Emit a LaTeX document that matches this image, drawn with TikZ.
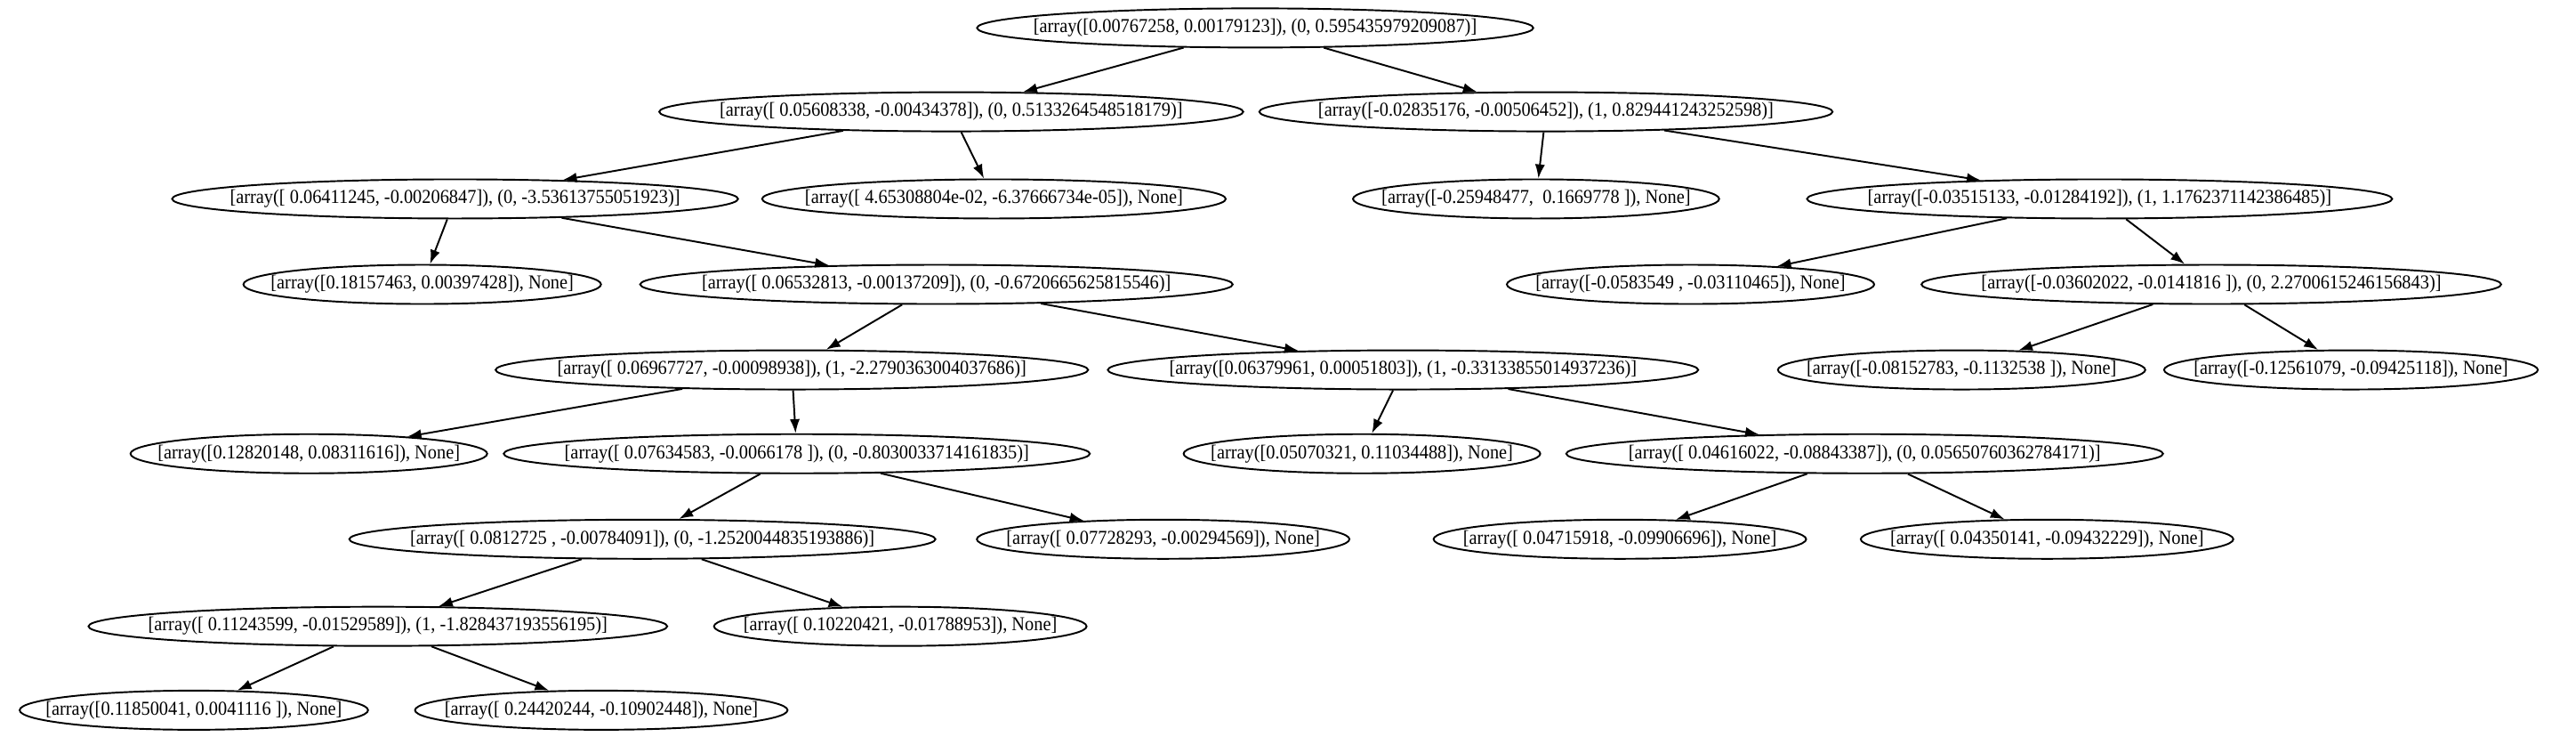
\documentclass[tikz,border=0pt]{standalone}
\usepackage{fontspec}
\setmainfont{Liberation Serif}[FakeStretch=0.92]
\usetikzlibrary{shapes.geometric, arrows.meta}

\tikzset{
    split/.style={draw, ellipse, line width=0.55pt, inner xsep=-8pt, inner ysep=0pt,
        minimum height=4.4mm, font=\fontsize{6.3pt}{7pt}\selectfont},
    edge/.style={->, >={Latex[length=4.5pt, width=3.2pt]}, line width=0.55pt}
}

\begin{document}
\begin{tikzpicture}[x=0.1847mm, y=-0.1847mm]
    \useasboundingbox (0,0) rectangle (1568,448);
    % level 0
    \node (n0) at (764,17) [split] {[array([0.00767258, 0.00179123]), (0, 0.595435979209087)]};
    % level 1
    \node (n1) at (579,68) [split] {[array([ 0.05608338, -0.00434378]), (0, 0.5133264548518179)]};
    \node (n2) at (941,68) [split] {[array([-0.02835176, -0.00506452]), (1, 0.829441243252598)]};
    % level 2
    \node (n3) at (277,121) [split] {[array([ 0.06411245, -0.00206847]), (0, -3.53613755051923)]};
    \node (n4) at (605,121) [split] {[array([ 4.65308804e-02, -6.37666734e-05]), None]};
    \node (n5) at (935,121) [split] {[array([-0.25948477,\ \ 0.1669778 ]), None]};
    \node (n6) at (1278,121) [split] {[array([-0.03515133, -0.01284192]), (1, 1.1762371142386485)]};
    % level 3
    \node (n7) at (257,173) [split] {[array([0.18157463, 0.00397428]), None]};
    \node (n8) at (570,173) [split] {[array([ 0.06532813, -0.00137209]), (0, -0.6720665625815546)]};
    \node (n9) at (1029,173) [split] {[array([-0.0583549 , -0.03110465]), None]};
    \node (n10) at (1346,173) [split] {[array([-0.03602022, -0.0141816 ]), (0, 2.2700615246156843)]};
    % level 4
    \node (n11) at (482,225) [split] {[array([ 0.06967727, -0.00098938]), (1, -2.2790363004037686)]};
    \node (n12) at (854,225) [split] {[array([0.06379961, 0.00051803]), (1, -0.33133855014937236)]};
    \node (n13) at (1194,225) [split] {[array([-0.08152783, -0.1132538 ]), None]};
    \node (n14) at (1431,225) [split] {[array([-0.12561079, -0.09425118]), None]};
    % level 5
    \node (n15) at (188,276) [split] {[array([0.12820148, 0.08311616]), None]};
    \node (n16) at (485,276) [split] {[array([ 0.07634583, -0.0066178 ]), (0, -0.8030033714161835)]};
    \node (n17) at (829,276) [split] {[array([0.05070321, 0.11034488]), None]};
    \node (n18) at (1135,276) [split] {[array([ 0.04616022, -0.08843387]), (0, 0.05650760362784171)]};
    % level 6
    \node (n19) at (391,328) [split] {[array([ 0.0812725 , -0.00784091]), (0, -1.2520044835193886)]};
    \node (n20) at (708,328) [split] {[array([ 0.07728293, -0.00294569]), None]};
    \node (n21) at (986,328) [split] {[array([ 0.04715918, -0.09906696]), None]};
    \node (n22) at (1246,328) [split] {[array([ 0.04350141, -0.09432229]), None]};
    % level 7
    \node (n23) at (230,381) [split] {[array([ 0.11243599, -0.01529589]), (1, -1.828437193556195)]};
    \node (n24) at (548,381) [split] {[array([ 0.10220421, -0.01788953]), None]};
    % level 8
    \node (n25) at (118,432) [split] {[array([0.11850041, 0.0041116 ]), None]};
    \node (n26) at (366,432) [split] {[array([ 0.24420244, -0.10902448]), None]};
    % edges
    \draw [edge] (n0) -- (n1);
    \draw [edge] (n0) -- (n2);
    \draw [edge] (n1) -- (n3);
    \draw [edge] (n1) -- (n4);
    \draw [edge] (n2) -- (n5);
    \draw [edge] (n2) -- (n6);
    \draw [edge] (n3) -- (n7);
    \draw [edge] (n3) -- (n8);
    \draw [edge] (n6) -- (n9);
    \draw [edge] (n6) -- (n10);
    \draw [edge] (n8) -- (n11);
    \draw [edge] (n8) -- (n12);
    \draw [edge] (n10) -- (n13);
    \draw [edge] (n10) -- (n14);
    \draw [edge] (n11) -- (n15);
    \draw [edge] (n11) -- (n16);
    \draw [edge] (n12) -- (n17);
    \draw [edge] (n12) -- (n18);
    \draw [edge] (n16) -- (n19);
    \draw [edge] (n16) -- (n20);
    \draw [edge] (n18) -- (n21);
    \draw [edge] (n18) -- (n22);
    \draw [edge] (n19) -- (n23);
    \draw [edge] (n19) -- (n24);
    \draw [edge] (n23) -- (n25);
    \draw [edge] (n23) -- (n26);
\end{tikzpicture}
\end{document}
